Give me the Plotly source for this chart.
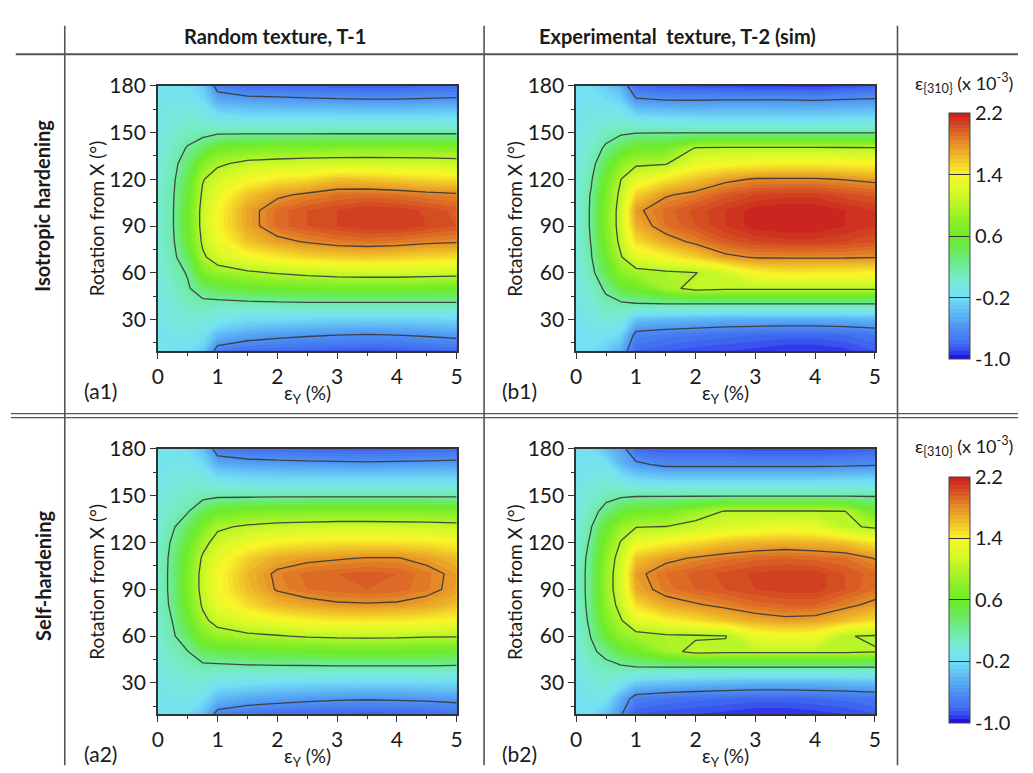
import plotly.graph_objects as go

W, H = 1033, 773

# ---------------- data ----------------
strain = [0, 0.25, 0.5, 0.75, 1, 1.5, 2, 2.5, 3, 3.5, 4, 4.5, 5]          # eps_Y (%)
rotation = [10, 20, 30, 40, 50, 60, 70, 80, 90, 100, 110, 120, 130, 140, 150, 160, 170, 180]  # deg

# (a1) Random texture, isotropic hardening  (rows = rotation, cols = strain)
z_a1 = [
    [-0.15, -0.15, -0.20, -0.30, -0.70, -0.78, -0.80, -0.82, -0.84, -0.86, -0.85, -0.82, -0.80],
    [-0.12, -0.10, -0.10, -0.15, -0.40, -0.50, -0.55, -0.58, -0.60, -0.62, -0.60, -0.58, -0.55],
    [-0.10, -0.05, 0.00, -0.02, -0.10, -0.20, -0.22, -0.24, -0.26, -0.27, -0.26, -0.25, -0.24],
    [-0.08, 0.00, 0.10, 0.12, 0.10, 0.12, 0.14, 0.15, 0.15, 0.15, 0.15, 0.15, 0.15],
    [-0.05, 0.05, 0.17, 0.35, 0.45, 0.55, 0.60, 0.63, 0.65, 0.65, 0.65, 0.64, 0.62],
    [-0.03, 0.10, 0.22, 0.70, 0.85, 0.95, 1.02, 1.08, 1.12, 1.14, 1.14, 1.12, 1.10],
    [-0.02, 0.13, 0.40, 0.95, 1.15, 1.35, 1.45, 1.52, 1.56, 1.58, 1.56, 1.52, 1.50],
    [0.00, 0.16, 0.55, 1.05, 1.30, 1.60, 1.74, 1.82, 1.88, 1.90, 1.88, 1.84, 1.82],
    [0.00, 0.18, 0.60, 1.10, 1.38, 1.72, 1.92, 2.00, 2.05, 2.10, 2.10, 2.05, 2.00],
    [0.00, 0.18, 0.60, 1.10, 1.38, 1.72, 1.92, 2.00, 2.05, 2.10, 2.08, 2.04, 1.98],
    [0.00, 0.17, 0.55, 1.05, 1.30, 1.60, 1.76, 1.84, 1.90, 1.92, 1.90, 1.86, 1.83],
    [-0.02, 0.15, 0.45, 0.98, 1.15, 1.35, 1.45, 1.50, 1.62, 1.60, 1.56, 1.52, 1.50],
    [-0.03, 0.12, 0.35, 0.75, 0.95, 1.08, 1.12, 1.14, 1.16, 1.16, 1.15, 1.14, 1.12],
    [-0.05, 0.08, 0.22, 0.40, 0.60, 0.70, 0.72, 0.74, 0.75, 0.76, 0.76, 0.76, 0.75],
    [-0.08, 0.02, 0.10, 0.10, 0.15, 0.15, 0.15, 0.15, 0.15, 0.15, 0.15, 0.15, 0.15],
    [-0.10, -0.05, 0.00, -0.05, -0.15, -0.20, -0.20, -0.20, -0.20, -0.20, -0.20, -0.20, -0.20],
    [-0.12, -0.10, -0.10, -0.20, -0.45, -0.50, -0.52, -0.54, -0.55, -0.56, -0.56, -0.55, -0.54],
    [-0.15, -0.15, -0.20, -0.30, -0.70, -0.80, -0.80, -0.82, -0.84, -0.85, -0.85, -0.82, -0.80],
]

# (b1) Experimental texture, isotropic hardening
z_b1 = [
    [-0.20, -0.20, -0.30, -0.45, -0.80, -0.85, -0.88, -0.90, -0.92, -0.95, -0.95, -0.92, -0.85],
    [-0.17, -0.15, -0.15, -0.25, -0.68, -0.72, -0.75, -0.78, -0.80, -0.82, -0.82, -0.80, -0.75],
    [-0.14, -0.08, 0.00, -0.05, -0.35, -0.40, -0.42, -0.44, -0.45, -0.45, -0.45, -0.44, -0.42],
    [-0.10, -0.02, 0.12, 0.15, 0.18, 0.19, 0.19, 0.19, 0.19, 0.19, 0.19, 0.19, 0.19],
    [-0.07, 0.05, 0.25, 0.50, 0.60, 0.90, 1.10, 1.05, 1.05, 1.05, 1.05, 1.05, 1.05],
    [-0.05, 0.12, 0.45, 0.80, 0.90, 0.95, 0.99, 1.15, 1.40, 1.45, 1.44, 1.42, 1.40],
    [-0.03, 0.18, 0.60, 0.98, 1.25, 1.40, 1.55, 1.75, 1.82, 1.82, 1.82, 1.82, 1.81],
    [-0.02, 0.21, 0.70, 1.08, 1.50, 1.70, 1.85, 1.98, 2.05, 2.08, 2.08, 2.05, 2.00],
    [-0.02, 0.23, 0.75, 1.12, 1.68, 1.90, 2.00, 2.10, 2.18, 2.20, 2.20, 2.15, 2.10],
    [-0.02, 0.23, 0.75, 1.12, 1.76, 1.92, 2.02, 2.10, 2.18, 2.20, 2.20, 2.15, 2.10],
    [-0.02, 0.22, 0.70, 1.08, 1.55, 1.78, 1.86, 1.98, 2.05, 2.08, 2.08, 2.02, 1.98],
    [-0.03, 0.17, 0.60, 1.00, 1.25, 1.45, 1.60, 1.75, 1.82, 1.82, 1.82, 1.79, 1.75],
    [-0.05, 0.10, 0.45, 0.80, 0.95, 0.98, 1.30, 1.35, 1.40, 1.42, 1.42, 1.40, 1.38],
    [-0.07, 0.04, 0.25, 0.45, 0.60, 0.65, 1.02, 1.04, 1.04, 1.04, 1.04, 1.03, 1.02],
    [-0.10, -0.02, 0.08, 0.15, 0.18, 0.19, 0.18, 0.18, 0.18, 0.18, 0.18, 0.18, 0.18],
    [-0.14, -0.08, -0.05, -0.05, -0.20, -0.22, -0.25, -0.25, -0.25, -0.26, -0.26, -0.25, -0.24],
    [-0.17, -0.15, -0.18, -0.25, -0.55, -0.58, -0.58, -0.57, -0.57, -0.57, -0.58, -0.56, -0.55],
    [-0.20, -0.20, -0.30, -0.45, -0.80, -0.85, -0.88, -0.90, -0.92, -0.92, -0.94, -0.90, -0.85],
]

# (a2) Random texture, self-hardening
z_a2 = [
    [-0.15, -0.15, -0.20, -0.35, -0.68, -0.75, -0.78, -0.80, -0.82, -0.83, -0.82, -0.80, -0.76],
    [-0.12, -0.10, -0.10, -0.18, -0.40, -0.48, -0.52, -0.55, -0.57, -0.58, -0.57, -0.56, -0.54],
    [-0.10, -0.05, 0.00, -0.03, -0.12, -0.18, -0.20, -0.22, -0.23, -0.24, -0.24, -0.23, -0.22],
    [-0.06, 0.02, 0.10, 0.12, 0.12, 0.14, 0.15, 0.15, 0.16, 0.16, 0.16, 0.16, 0.15],
    [-0.02, 0.10, 0.19, 0.40, 0.45, 0.52, 0.56, 0.58, 0.60, 0.60, 0.60, 0.58, 0.56],
    [0.00, 0.16, 0.40, 0.72, 0.85, 0.94, 0.98, 1.03, 1.05, 1.06, 1.05, 1.03, 1.02],
    [0.03, 0.21, 0.55, 0.92, 1.12, 1.25, 1.35, 1.42, 1.45, 1.46, 1.45, 1.42, 1.38],
    [0.05, 0.26, 0.65, 1.04, 1.28, 1.50, 1.65, 1.72, 1.77, 1.78, 1.77, 1.72, 1.62],
    [0.05, 0.28, 0.70, 1.10, 1.35, 1.62, 1.82, 1.90, 1.93, 1.95, 1.93, 1.86, 1.74],
    [0.05, 0.28, 0.70, 1.10, 1.35, 1.65, 1.84, 1.92, 1.95, 1.97, 1.95, 1.87, 1.75],
    [0.05, 0.27, 0.66, 1.04, 1.28, 1.55, 1.70, 1.75, 1.78, 1.81, 1.81, 1.74, 1.64],
    [0.03, 0.24, 0.55, 0.90, 1.12, 1.30, 1.42, 1.45, 1.48, 1.48, 1.47, 1.45, 1.40],
    [0.00, 0.17, 0.38, 0.70, 0.95, 1.05, 1.10, 1.12, 1.14, 1.14, 1.13, 1.12, 1.10],
    [-0.03, 0.08, 0.18, 0.42, 0.60, 0.68, 0.72, 0.73, 0.74, 0.74, 0.74, 0.73, 0.72],
    [-0.06, 0.00, 0.08, 0.12, 0.15, 0.15, 0.16, 0.16, 0.16, 0.16, 0.16, 0.16, 0.16],
    [-0.10, -0.06, -0.02, -0.05, -0.15, -0.18, -0.20, -0.20, -0.20, -0.20, -0.20, -0.20, -0.20],
    [-0.12, -0.10, -0.10, -0.20, -0.45, -0.50, -0.52, -0.53, -0.54, -0.55, -0.54, -0.53, -0.52],
    [-0.15, -0.15, -0.20, -0.35, -0.72, -0.78, -0.80, -0.82, -0.83, -0.84, -0.83, -0.82, -0.80],
]

# (b2) Experimental texture, self-hardening
z_b2 = [
    [-0.20, -0.20, -0.35, -0.58, -0.85, -0.88, -0.90, -0.92, -0.95, -0.95, -0.93, -0.90, -0.85],
    [-0.15, -0.12, -0.15, -0.45, -0.70, -0.75, -0.78, -0.80, -0.82, -0.82, -0.80, -0.78, -0.75],
    [-0.12, -0.04, 0.00, -0.12, -0.30, -0.35, -0.38, -0.40, -0.42, -0.42, -0.42, -0.40, -0.38],
    [-0.08, 0.05, 0.12, 0.15, 0.19, 0.19, 0.19, 0.19, 0.19, 0.19, 0.19, 0.19, 0.19],
    [-0.04, 0.15, 0.28, 0.50, 0.60, 0.90, 1.08, 1.05, 1.05, 1.05, 1.05, 1.05, 1.01],
    [0.00, 0.21, 0.55, 0.82, 0.90, 0.96, 0.97, 0.99, 1.30, 1.35, 1.32, 1.01, 0.98],
    [0.02, 0.26, 0.72, 0.98, 1.25, 1.40, 1.50, 1.60, 1.70, 1.75, 1.73, 1.62, 1.50],
    [0.04, 0.29, 0.82, 1.10, 1.50, 1.70, 1.78, 1.85, 1.92, 1.95, 1.95, 1.85, 1.75],
    [0.05, 0.30, 0.86, 1.16, 1.70, 1.88, 1.95, 2.00, 2.05, 2.08, 2.08, 2.00, 1.90],
    [0.05, 0.30, 0.86, 1.16, 1.75, 1.90, 1.97, 2.02, 2.06, 2.08, 2.08, 2.00, 1.92],
    [0.04, 0.29, 0.82, 1.12, 1.60, 1.75, 1.82, 1.88, 1.93, 1.95, 1.93, 1.90, 1.79],
    [0.02, 0.24, 0.72, 1.02, 1.30, 1.40, 1.50, 1.60, 1.65, 1.68, 1.65, 1.60, 1.45],
    [0.00, 0.19, 0.55, 0.85, 0.99, 1.01, 1.10, 1.20, 1.25, 1.28, 1.26, 1.05, 0.96],
    [-0.04, 0.10, 0.30, 0.50, 0.60, 0.65, 0.85, 1.02, 1.02, 1.02, 1.02, 1.005, 0.60],
    [-0.08, 0.02, 0.12, 0.16, 0.18, 0.18, 0.18, 0.18, 0.18, 0.18, 0.18, 0.18, 0.18],
    [-0.12, -0.06, -0.02, -0.10, -0.20, -0.25, -0.25, -0.25, -0.25, -0.25, -0.25, -0.24, -0.22],
    [-0.15, -0.13, -0.15, -0.40, -0.55, -0.65, -0.65, -0.65, -0.65, -0.65, -0.65, -0.64, -0.62],
    [-0.20, -0.20, -0.35, -0.50, -0.80, -0.85, -0.85, -0.85, -0.88, -0.88, -0.88, -0.86, -0.82],
]

col_titles = ["Random texture, T-1", "Experimental\u00a0 texture, T-2 (sim)"]
row_titles = ["Isotropic hardening", "Self-hardening"]
panel_labels = ["(a1)", "(b1)", "(a2)", "(b2)"]
cbar_ticks = [-1.0, -0.2, 0.6, 1.4, 2.2]
cbar_ticktext = ["-1.0", "-0.2", "0.6", "1.4", "2.2"]
line_levels = dict(start=-0.6, end=1.8, size=0.8)
zmin, zmax = -1.0, 2.2

# ---------------- style ----------------
FONT = "Lato"
TXT = "#1a1a1a"
colorscale = [
    [0.0000, "rgb(25,0,225)"],
    [0.0313, "rgb(55,75,238)"],
    [0.0625, "rgb(65,110,240)"],
    [0.1250, "rgb(78,145,242)"],
    [0.1875, "rgb(95,185,245)"],
    [0.2500, "rgb(115,222,245)"],
    [0.3125, "rgb(120,235,215)"],
    [0.3750, "rgb(110,235,160)"],
    [0.4375, "rgb(105,235,90)"],
    [0.5000, "rgb(110,235,40)"],
    [0.5625, "rgb(140,240,40)"],
    [0.6250, "rgb(180,245,40)"],
    [0.6875, "rgb(220,250,40)"],
    [0.7500, "rgb(250,245,40)"],
    [0.8125, "rgb(240,195,40)"],
    [0.8750, "rgb(230,145,40)"],
    [0.9375, "rgb(215,85,35)"],
    [1.0000, "rgb(200,30,30)"],
]


def px(x):
    return x / W


def py(y):
    return 1 - y / H


# panel pixel boxes (left, right, top, bottom)
col_x = [(155, 460), (582, 887)]
row_y = [(73, 343), (443, 713)]
panels = [(z_a1, 0, 0), (z_b1, 1, 0), (z_a2, 0, 1), (z_b2, 1, 1)]

fig = go.Figure()
layout_axes = {}
cbar_rows = [(101, 352), (471, 722)]

for i, (z, c, r) in enumerate(panels):
    n = i + 1
    xa = "x" if n == 1 else f"x{n}"
    ya = "y" if n == 1 else f"y{n}"
    show = (c == 1)
    cb = None
    if show:
        t, b = cbar_rows[r]
        cb = dict(
            x=px(963), xanchor="left", y=py((t + b) / 2), yanchor="middle",
            len=(b - t) / H, lenmode="fraction", thickness=21, thicknessmode="pixels",
            xpad=0, ypad=0, outlinewidth=1, outlinecolor="#444",
            tickvals=cbar_ticks, ticktext=cbar_ticktext, ticks="inside", ticklen=21,
            tickwidth=1.3, tickcolor="#333",
            tickfont=dict(family=FONT, size=20, color=TXT),
        )
    fig.add_trace(go.Contour(
        x=strain, y=rotation, z=z, zmin=zmin, zmax=zmax, zauto=False,
        autocontour=False,
        contours=dict(start=zmin, end=zmax, size=0.05, coloring="fill", showlines=False),
        line=dict(width=0, smoothing=0), colorscale=colorscale, showscale=show,
        colorbar=cb, xaxis=xa, yaxis=ya, hoverinfo="skip",
    ))
    fig.add_trace(go.Contour(
        x=strain, y=rotation, z=z, autocontour=False,
        contours=dict(coloring="none", **line_levels),
        line=dict(color="rgba(55,55,55,0.9)", width=1.3, smoothing=0),
        showscale=False, xaxis=xa, yaxis=ya, hoverinfo="skip",
    ))
    l, rr = col_x[c]
    t, b = row_y[r]
    axcommon = dict(showline=True, linecolor="#333", linewidth=1.5, mirror=True,
                    ticks="outside", ticklen=6, tickwidth=1.3, tickcolor="#333",
                    tickfont=dict(family=FONT, size=21, color=TXT),
                    showgrid=False, zeroline=False)
    layout_axes["xaxis" if n == 1 else f"xaxis{n}"] = dict(
        domain=[px(l), px(rr)], anchor=ya, range=[0, 5], dtick=1, tick0=0,
        minor=dict(ticks="outside", dtick=0.5, tick0=0, ticklen=3, tickcolor="#333"),
        **axcommon)
    layout_axes["yaxis" if n == 1 else f"yaxis{n}"] = dict(
        domain=[py(b), py(t)], anchor=xa, range=[10, 180], dtick=30, tick0=0,
        minor=dict(ticks="outside", dtick=15, tick0=0, ticklen=3, tickcolor="#333"),
        **axcommon)

annotations = []


def ann(text, x, y, size, angle=0, bold=False):
    annotations.append(dict(
        text=f"<b>{text}</b>" if bold else text, x=px(x), y=py(y), xref="paper", yref="paper",
        showarrow=False, textangle=angle, xanchor="center", yanchor="middle",
        font=dict(family=FONT, size=size, color=TXT)))


ann(col_titles[0], 275, 22, 20, bold=True)
ann(col_titles[1], 685, 22, 20, bold=True)
ann(row_titles[0], 37, 195, 20, angle=-90, bold=True)
ann(row_titles[1], 37, 572, 20, angle=-90, bold=True)

for i, (z, c, r) in enumerate(panels):
    l, rr = col_x[c]
    t, b = row_y[r]
    ann("Rotation from X (°)", l - 63, (t + b) / 2, 19, angle=-90)
    ann("ε<sub>Y</sub> (%)", (l + rr) / 2, b + 44, 19)
    ann(panel_labels[i], l - 59 if c == 0 else l - 58, b + 40, 21)

ann("ε<sub>{310}</sub> (x 10<sup>-3</sup>)", 978, 70, 18)
ann("ε<sub>{310}</sub> (x 10<sup>-3</sup>)", 978, 440, 18)

shapes = []


def hline(y, x0, x1, w=2, color="#555"):
    shapes.append(dict(type="line", xref="paper", yref="paper", x0=px(x0), x1=px(x1),
                       y0=py(y), y1=py(y), line=dict(color=color, width=w)))


def vline(x, y0, y1, w=1.6, color="#555"):
    shapes.append(dict(type="line", xref="paper", yref="paper", x0=px(x), x1=px(x),
                       y0=py(y0), y1=py(y1), line=dict(color=color, width=w)))


hline(41, 10, 1033, 2)
hline(407, 5, 1033, 1.3)
hline(411, 5, 1033, 1.3)
vline(60, 12, 765)
vline(488, 12, 765)
vline(910, 12, 765)

fig.update_layout(
    width=W, height=H, margin=dict(l=0, r=0, t=0, b=0),
    paper_bgcolor="white", plot_bgcolor="white",
    showlegend=False, annotations=annotations, shapes=shapes,
    font=dict(family=FONT, color=TXT),
    **layout_axes,
)

fig.write_html("out.html")
